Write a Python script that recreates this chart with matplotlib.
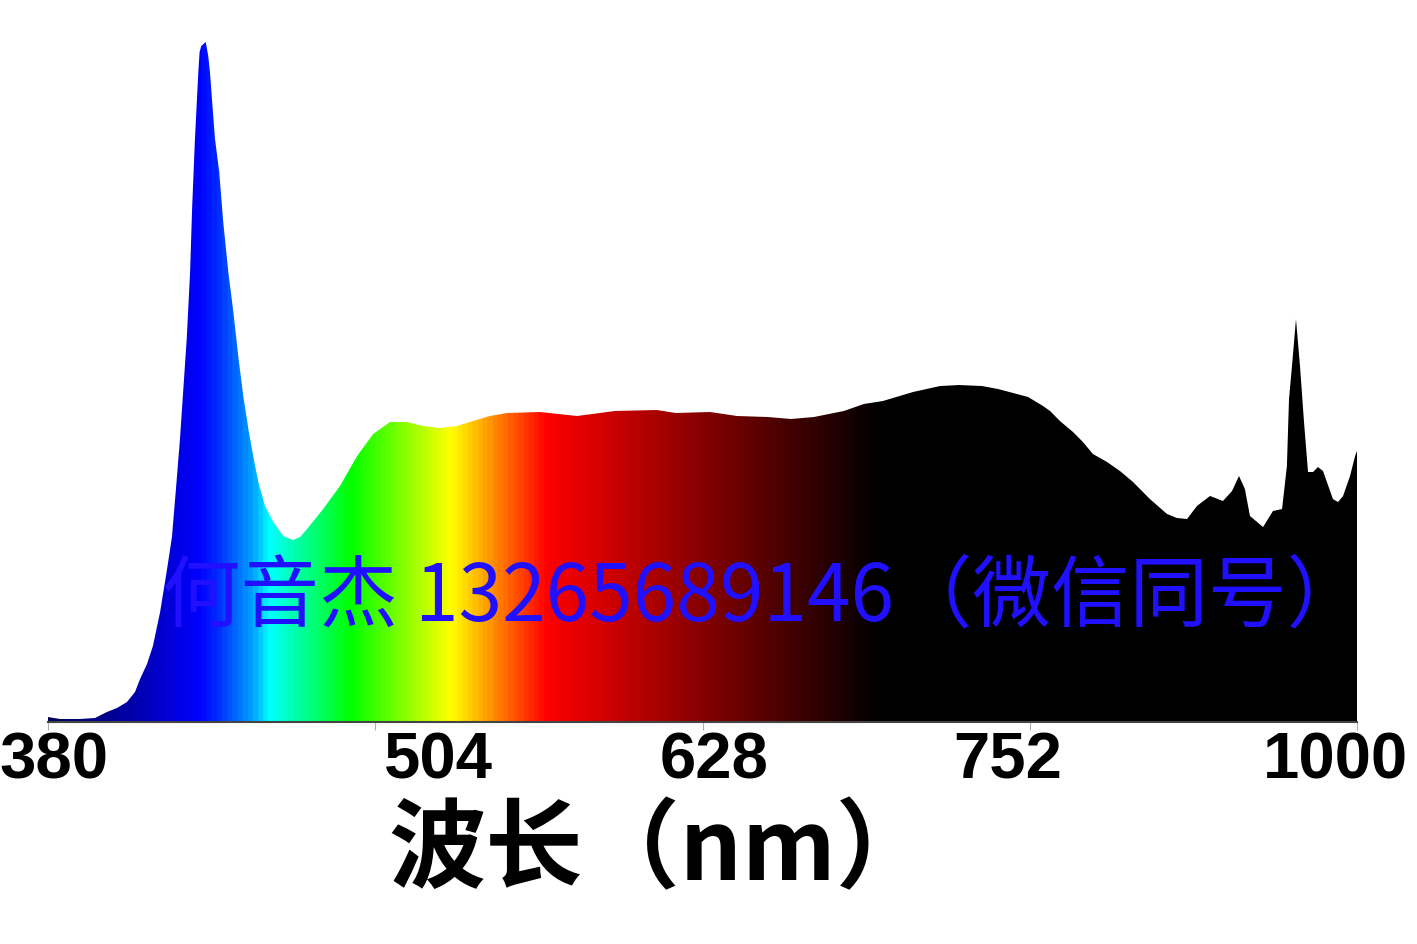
import numpy as np
import matplotlib
matplotlib.use("Agg")
import matplotlib.pyplot as plt
from matplotlib.colors import LinearSegmentedColormap
from matplotlib import font_manager
import matplotlib.transforms as mtransforms

# ---------------- data ----------------
wavelength_nm = [380.0, 385.7, 395.2, 402.3, 407.9, 412.7, 417.4, 421.2, 423.6, 426.9,
                 429.7, 433.1, 436.4, 438.7, 440.6, 442.5, 444.1, 445.7, 447.3, 448.3,
                 449.6, 451.2, 451.8, 452.6, 454.7, 455.9, 456.7, 459.1, 461.1, 463.0,
                 465.4, 467.8, 470.1, 472.5, 474.9, 477.2, 479.6, 482.8, 486.7, 491.4,
                 496.0, 499.4, 502.7, 510.3, 518.3, 526.4, 534.0, 542.0, 550.0, 557.6,
                 565.7, 573.7, 581.3, 589.3, 597.4, 613.0, 630.6, 648.6, 668.4, 677.4,
                 693.5, 706.3, 721.0, 731.9, 742.8, 757.0, 766.5, 775.5, 789.7, 802.5,
                 811.5, 822.4, 830.0, 844.2, 851.3, 854.6, 859.3, 865.5, 870.2, 874.9,
                 881.6, 887.7, 893.9, 901.9, 910.0, 914.7, 919.5, 924.2, 930.4, 936.5,
                 940.8, 944.1, 946.9, 949.3, 955.5, 960.2, 964.5, 966.8, 967.8, 969.2,
                 971.1, 973.0, 974.9, 976.8, 979.2, 981.5, 983.9, 988.6, 991.0, 993.4,
                 996.7, 999.1, 1000.0]
intensity = [0.66, 0.37, 0.37, 0.52, 1.40, 1.99, 2.87, 4.34, 6.25, 8.46,
             11.11, 16.11, 22.44, 27.15, 34.22, 41.57, 48.93, 56.29, 66.15, 75.86,
             85.72, 95.58, 98.53, 99.41, 100.0, 97.94, 95.58, 85.72, 80.87, 73.51,
             66.15, 60.26, 53.79, 47.90, 43.05, 39.07, 35.25, 31.72, 29.36, 27.30,
             26.71, 27.15, 28.33, 31.27, 34.66, 39.07, 42.31, 44.08, 44.08, 43.49,
             43.19, 43.49, 44.22, 44.96, 45.40, 45.55, 44.96, 45.70, 45.84, 45.40,
             45.55, 44.96, 44.81, 44.52, 44.81, 45.70, 46.73, 47.17, 48.49, 49.37,
             49.52, 49.37, 48.93, 47.76, 46.43, 45.70, 44.22, 42.60, 41.13, 39.37,
             38.19, 36.87, 35.25, 32.74, 30.54, 29.95, 29.80, 31.72, 33.19, 32.45,
             33.92, 36.13, 34.22, 30.24, 28.62, 30.98, 31.27, 37.60, 47.46, 52.32,
             59.23, 52.32, 44.08, 36.72, 36.72, 37.45, 36.87, 32.74, 32.30, 33.19,
             36.13, 39.07, 39.81]

tick_positions = [380, 535, 690, 845, 1000]
tick_labels = ["380", "504", "628", "752", "1000"]
tick_label_x = [382.6, 564.7, 695.7, 834.4, 989.8]

# spectral colour stops (nm, colour)
color_stop_nm = [380, 419, 450.5, 459, 475.7, 484, 522.6, 570.4, 615.4, 693.5, 774, 1000]
color_stop_rgb = [(0, 0, 90), (0, 0, 170), (0, 0, 255), (0, 40, 255), (0, 160, 255),
                  (0, 255, 255), (0, 255, 0), (255, 255, 0), (255, 0, 0), (128, 0, 0),
                  (0, 0, 0), (0, 0, 0)]

xlabel_text = "波长（nm）"
watermark_text = "何音杰 13265689146（微信同号）"

# ---------------- fonts ----------------
available = {f.name for f in font_manager.fontManager.ttflist}
tick_font = "Liberation Sans Narrow" if "Liberation Sans Narrow" in available else "Liberation Sans"
cjk = ["Noto Sans CJK SC", "DejaVu Sans"]

# ---------------- figure ----------------
W, H = 1417, 945
fig = plt.figure(figsize=(W / 100, H / 100), dpi=100)
fig.patch.set_facecolor("white")
ax = fig.add_axes([48 / W, (H - 722.5) / H, 1309 / W, 679.5 / H])
ax.set_xlim(380, 1000)
ax.set_ylim(0, 100)

# gradient image clipped by the spectrum
lo, hi = 380, 1000
pos = [(v - lo) / (hi - lo) for v in color_stop_nm]
cmap = LinearSegmentedColormap.from_list(
    "spec", list(zip(pos, [tuple(c / 255 for c in rgb) for rgb in color_stop_rgb])))
grad = np.linspace(0, 1, 1400).reshape(1, -1)
poly = ax.fill_between(wavelength_nm, 0, intensity, color="none", lw=0)
img = ax.imshow(grad, cmap=cmap, extent=[lo, hi, 0, 100], aspect="auto",
                origin="lower", interpolation="bilinear", zorder=1)
clip = poly.get_paths()[0]
img.set_clip_path(clip, transform=ax.transData)

# axes styling
for s in ["left", "right", "top"]:
    ax.spines[s].set_visible(False)
ax.spines["bottom"].set_color("#444444")
ax.spines["bottom"].set_linewidth(1.5)
ax.spines["bottom"].set_zorder(3)
ax.set_yticks([])
ax.set_xticks(tick_positions)
ax.set_xticklabels([])
ax.tick_params(axis="x", direction="out", length=5.5, width=0.8, color="#b0b0b0")

trans = mtransforms.blended_transform_factory(ax.transData, ax.transAxes)
for xv, lab in zip(tick_label_x, tick_labels):
    ax.text(xv, -0.0817, lab, transform=trans, ha="center", va="baseline",
            fontsize=47, fontweight="bold", family=[tick_font, "DejaVu Sans"],
            color="black", clip_on=False)

# axis title
fig.text(388 / W, (H - 880) / H, xlabel_text, ha="left", va="baseline",
         fontsize=70, fontweight="bold", family=cjk, color="black")

# watermark
fig.text(162 / W, (H - 620) / H, watermark_text, ha="left", va="baseline",
         fontsize=56.5, family=cjk, color="#2010ff", zorder=10)

fig.savefig("out.png", dpi=100, facecolor="white")
